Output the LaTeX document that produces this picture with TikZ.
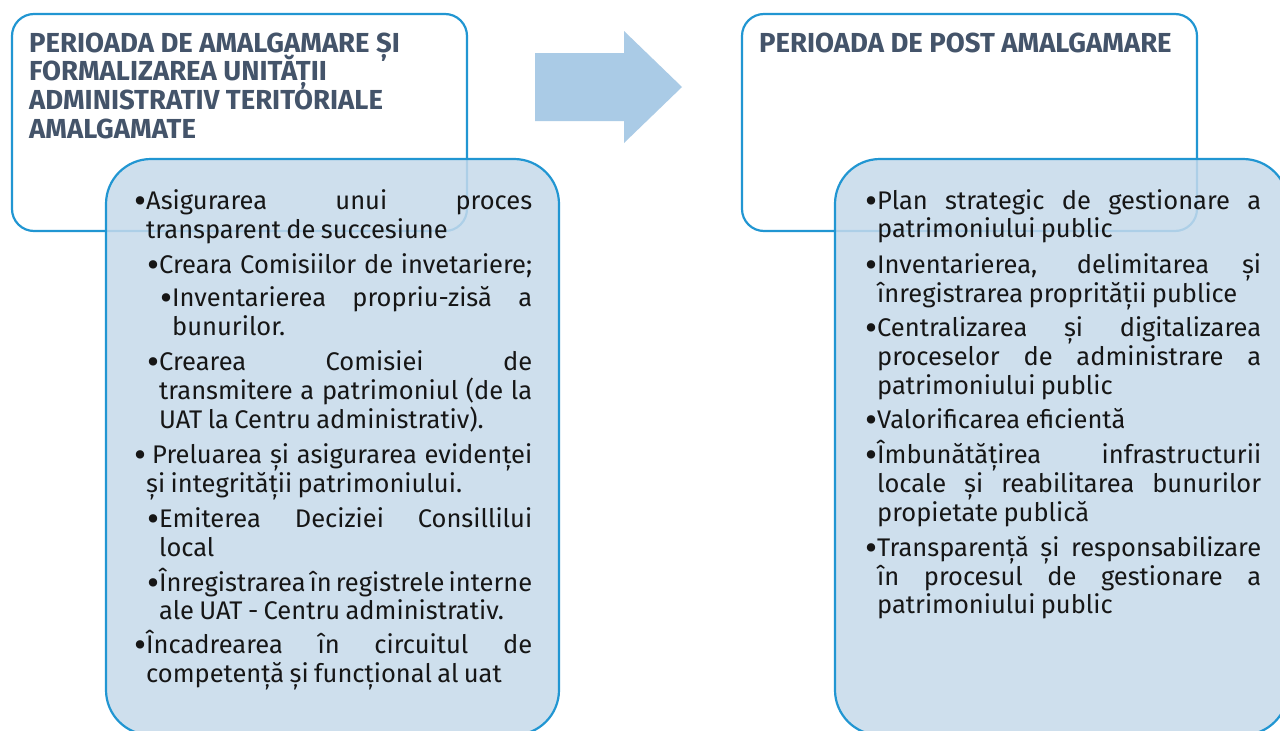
\documentclass[tikz,border=0pt]{standalone}
\usepackage{fontspec}
\setmainfont{Fira Sans}
\newfontfamily\bodyfont{Fira Sans}[WordSpace=0.8]
\definecolor{boxline}{RGB}{33,150,210}
\definecolor{boxfill}{RGB}{198,218,235}
\definecolor{arrowfill}{RGB}{170,203,230}
\definecolor{titlecol}{RGB}{68,84,106}
\definecolor{txt}{RGB}{22,22,22}
\newcommand{\bul}{\makebox[11pt][l]{\hspace*{-1pt}\raisebox{-4pt}{\fontsize{37}{29}\selectfont •}}}
\newcommand{\jst}[2]{\makebox[#1pt][s]{#2}}
\begin{document}
\begin{tikzpicture}[x=1pt,y=-1pt,
  outerbox/.style={draw=boxline,line width=2.2pt,rounded corners=22pt,anchor=north west,inner sep=0pt,outer sep=0pt},
  innerbox/.style={draw=boxline,line width=2.2pt,rounded corners=45pt,fill=boxfill,fill opacity=0.85,anchor=north west,inner sep=0pt,outer sep=0pt},
  title/.style={anchor=base west,inner sep=0pt,font=\fontsize{27.5}{29}\selectfont\bfseries,text=titlecol},
  ln/.style={anchor=base west,inner sep=0pt,font=\bodyfont\fontsize{25.5}{29}\selectfont,text=txt},
]
\useasboundingbox (0,0) rectangle (1280,731);
\fill[white] (0,0) rectangle (1280,731);
% frames
\node[outerbox,minimum width=455pt,minimum height=217pt] (lt) at (12,14) {};
\node[outerbox,minimum width=455pt,minimum height=217pt] (rt) at (742,14) {};
% arrow
\fill[arrowfill] (535,53) -- (624,53) -- (624,31) -- (682,87) -- (624,143) -- (624,121) -- (535,121) -- cycle;
% titles
\node[title] (t1) at (29,52) {PERIOADA DE AMALGAMARE ȘI};
\node[title] (t2) at (29,80) {FORMALIZAREA UNITĂȚII};
\node[title] (t3) at (29,109) {ADMINISTRATIV TERITORIALE};
\node[title] (t4) at (29,138) {AMALGAMATE};
\node[title] (t5) at (759,52) {PERIOADA DE POST AMALGAMARE};
% inner boxes
\node[innerbox,minimum width=453pt,minimum height=576pt] (lb) at (106,159) {};
\node[innerbox,minimum width=453pt,minimum height=576pt] (rb) at (835,159) {};
% left text
\node[ln] (a1) at (135,209) {\bul\jst{386}{Asigurarea unui proces}};
\node[ln] (a2) at (146,238) {transparent de succesiune};
\node[ln] (a3) at (148,273) {\bul\jst{373}{Creara Comisiilor de invetariere;}};
\node[ln] (a4) at (161,306) {\bul\jst{360}{Inventarierea propriu-zisă a}};
\node[ln] (a5) at (172,335) {bunurilor.};
\node[ln] (a6) at (148,370) {\bul\jst{373}{Crearea Comisiei de}};
\node[ln] (a7) at (159,399) {\jst{373}{transmitere a patrimoniul (de la}};
\node[ln] (a8) at (159,428) {UAT la Centru administrativ).};
\node[ln] (a9) at (135,463) {\bul\hspace*{6pt}\jst{380}{Preluarea și asigurarea evidenței}};
\node[ln] (a10) at (146,492) {și integrității patrimoniului.};
\node[ln] (a11) at (148,527) {\bul\jst{373}{Emiterea Deciziei Consillilui}};
\node[ln] (a12) at (159,556) {local};
\node[ln] (a13) at (148,591) {\bul\jst{373}{Înregistrarea în registrele interne}};
\node[ln] (a14) at (159,619) {ale UAT - Centru administrativ.};
\node[ln] (a15) at (135,653) {\bul\jst{386}{Încadrearea în circuitul de}};
\node[ln] (a16) at (146,682) {competență și funcțional al uat};
% right text
\node[ln] (b1) at (866,209) {\bul\jst{384}{Plan strategic de gestionare a}};
\node[ln] (b2) at (877,237) {patrimoniului public};
\node[ln] (b3) at (866,273) {\bul\jst{384}{Inventarierea, delimitarea și}};
\node[ln] (b4) at (877,302) {înregistrarea proprității publice};
\node[ln] (b5) at (866,336) {\bul\jst{384}{Centralizarea și digitalizarea}};
\node[ln] (b6) at (877,365) {\jst{384}{proceselor de administrare a}};
\node[ln] (b7) at (877,394) {patrimoniului public};
\node[ln] (b8) at (866,428) {\bul Valorificarea eficientă};
\node[ln] (b9) at (866,463) {\bul\jst{384}{Îmbunătățirea infrastructurii}};
\node[ln] (b10) at (877,492) {\jst{384}{locale și reabilitarea bunurilor}};
\node[ln] (b11) at (877,521) {propietate publică};
\node[ln] (b12) at (866,556) {\bul\jst{384}{Transparență și responsabilizare}};
\node[ln] (b13) at (877,585) {\jst{384}{în procesul de gestionare a}};
\node[ln] (b14) at (877,613) {patrimoniului public};
\end{tikzpicture}
\end{document}
